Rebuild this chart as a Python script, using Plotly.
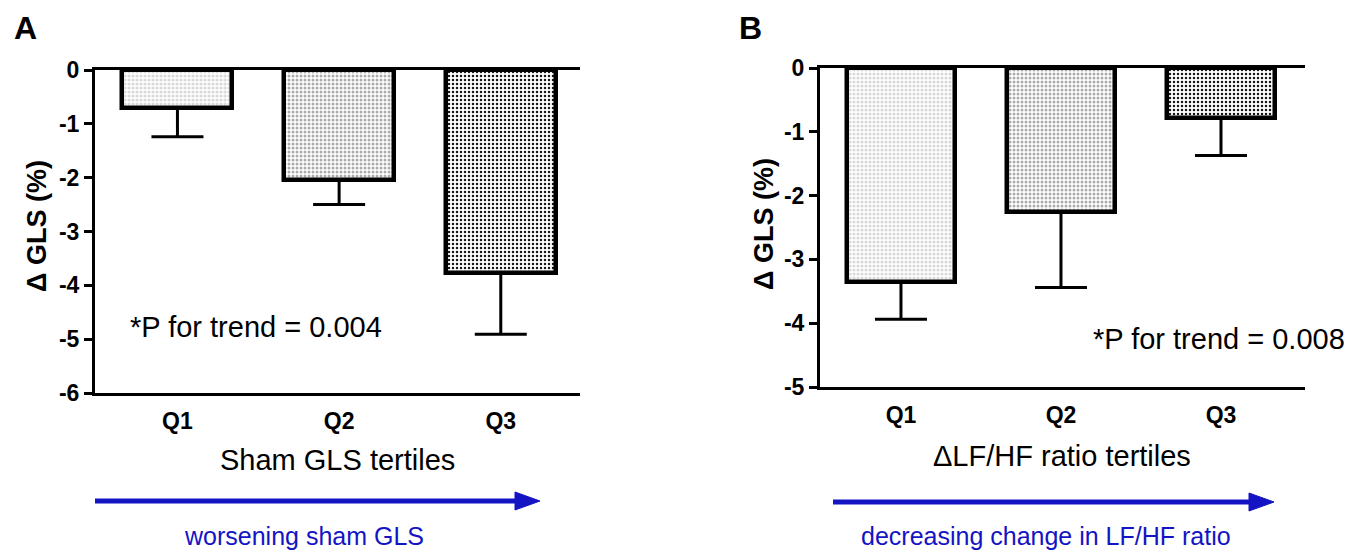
import plotly.graph_objects as go

# ---------------- data ----------------
categories = ["Q1", "Q2", "Q3"]

a_means = [-0.71, -2.04, -3.77]
a_sem = [0.53, 0.46, 1.14]
b_means = [-3.35, -2.26, -0.79]
b_sem = [0.59, 1.18, 0.58]

a_ytickvals = [0, -1, -2, -3, -4, -5, -6]
a_yticktext = ["0", "-1", "-2", "-3", "-4", "-5", "-6"]
b_ytickvals = [0, -1, -2, -3, -4, -5]
b_yticktext = ["0", "-1", "-2", "-3", "-4", "-5"]

a_xtitle = "Sham GLS tertiles"
b_xtitle = "\u0394LF/HF ratio tertiles"
y_title = "\u0394 GLS (%)"
a_ptext = "*P for trend = 0.004"
b_ptext = "*P for trend = 0.008"
a_arrowtext = "worsening sham GLS"
b_arrowtext = "decreasing change in LF/HF ratio"

# ---------------- styling ----------------
OFF = 8  # page body margin
W, H = 1369 - 2 * OFF, 555 - OFF
FONT = "Liberation Sans, Arial, sans-serif"
BLUE = "#1414c4"
pat_fg = ["#a0a0a0", "#5c5c5c", "#8c8c8c"]
pat_bg = ["#dadada", "#acacac", "#161616"]
pat_sol = [0.5, 0.45, 0.3]


def px(x):
    return (x - OFF) / W


def py(y):
    return (H - (y - OFF)) / H


def bar_trace(means, sems, xa, ya):
    return go.Bar(
        x=categories, y=means, xaxis=xa, yaxis=ya, width=0.68,
        marker=dict(
            color=pat_bg,
            line=dict(color="black", width=4.5),
            pattern=dict(shape=".", fgcolor=pat_fg, bgcolor=pat_bg,
                         size=4, solidity=pat_sol, fillmode="replace"),
        ),
        error_y=dict(type="data", symmetric=False, array=[0, 0, 0],
                     arrayminus=sems, thickness=3, width=26, color="black"),
        showlegend=False,
    )


fig = go.Figure()
fig.add_trace(bar_trace(a_means, a_sem, "x", "y"))
fig.add_trace(bar_trace(b_means, b_sem, "x2", "y2"))

xcommon = dict(showline=True, linecolor="black", linewidth=3, mirror=True,
               ticks="", showgrid=False, zeroline=False, automargin=False,
               tickfont=dict(family=FONT, size=23, color="black", weight="bold"),
               ticklabelstandoff=5, range=[-0.51, 2.49])
ycommon = dict(showline=True, linecolor="black", linewidth=3, ticks="outside",
               ticklen=8, tickwidth=3, tickcolor="black", showgrid=False,
               zeroline=False, automargin=False,
               tickfont=dict(family=FONT, size=23, color="black", weight="bold"))

fig.update_layout(
    template="none",
    width=W, height=H,
    margin=dict(l=0, r=0, t=0, b=0, pad=0, autoexpand=False),
    paper_bgcolor="white", plot_bgcolor="white",
    bargap=0,
    xaxis=dict(xcommon, domain=[px(95), px(580)], anchor="y"),
    yaxis=dict(ycommon, domain=[py(393), py(70)], anchor="x",
               range=[-6, 0], tickvals=a_ytickvals, ticktext=a_yticktext),
    xaxis2=dict(xcommon, domain=[px(820), px(1305)], anchor="y2",
                range=[-0.506, 2.525]),
    yaxis2=dict(ycommon, domain=[py(387), py(68)], anchor="x2",
                range=[-5, 0], tickvals=b_ytickvals, ticktext=b_yticktext),
)

ann = []


def text(x, y, s, size, color="black", bold=False, xanchor="center", angle=0):
    ann.append(dict(x=px(x), y=py(y), xref="paper", yref="paper", text=s,
                    showarrow=False, xanchor=xanchor, yanchor="middle",
                    textangle=angle,
                    font=dict(family=FONT, size=size, color=color,
                              weight="bold" if bold else "normal")))


text(25, 28, "A", 32, bold=True)
text(750, 28, "B", 32, bold=True)
text(37, 226, y_title, 27, bold=True, angle=-90)
text(764, 224, y_title, 27, bold=True, angle=-90)
text(337, 460, a_xtitle, 29)
text(1062, 456, b_xtitle, 29)
text(128, 327, a_ptext, 29, xanchor="left")
text(1091, 339, b_ptext, 29, xanchor="left")
text(304, 536, a_arrowtext, 25, color=BLUE)
text(1046, 536, b_arrowtext, 25, color=BLUE)

shapes = []
for x0, x1, y in [(95, 540, 501), (833, 1274, 502)]:
    shapes.append(dict(type="line", xref="paper", yref="paper",
                       x0=px(x0), x1=px(x1 - 20), y0=py(y), y1=py(y),
                       line=dict(color=BLUE, width=5)))
    shapes.append(dict(type="path", xref="paper", yref="paper",
                       path=f"M {px(x1-25)},{py(y-9)} L {px(x1)},{py(y)} L {px(x1-25)},{py(y+9)} Z",
                       fillcolor=BLUE, line=dict(color=BLUE, width=1)))
fig.update_layout(shapes=shapes, annotations=ann)

fig.write_html("out.html")
